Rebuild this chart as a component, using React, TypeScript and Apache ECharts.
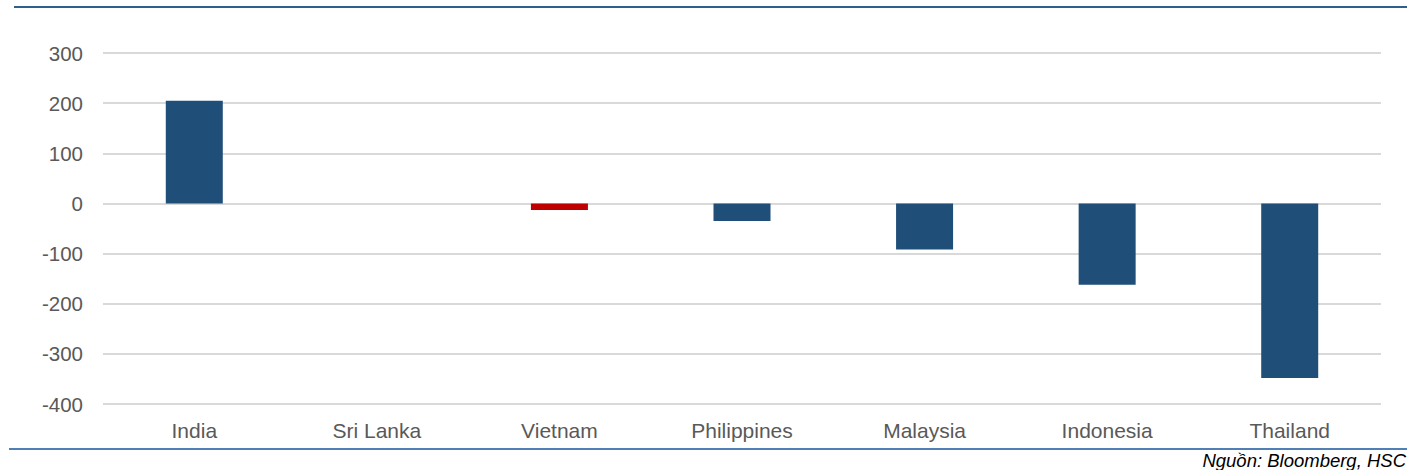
import React, { useEffect, useRef } from "react";
import * as echarts from "echarts";

const categories = ["India", "Sri Lanka", "Vietnam", "Philippines", "Malaysia", "Indonesia", "Thailand"];
const values = [205, 0, -13, -35, -92, -162, -348];
const highlight = ["Vietnam"];
const yTicks = { min: -400, max: 300, interval: 100 };

export default function App() {
  const ref = useRef<HTMLDivElement>(null);
  useEffect(() => {
    document.body.style.margin = "0";
    const chart = echarts.init(ref.current!, undefined, { renderer: "svg" });
    chart.setOption({
      animation: false,
      textStyle: { fontFamily: "Liberation Sans, Arial, sans-serif" },
      grid: { left: 103, right: 26, top: 53, bottom: 66, containLabel: false },
      xAxis: {
        type: "category",
        data: categories,
        axisLine: { show: false },
        axisTick: { show: false },
        axisLabel: { color: "#595959", fontSize: 21, margin: 16 },
      },
      yAxis: {
        type: "value",
        min: yTicks.min,
        max: yTicks.max,
        interval: yTicks.interval,
        axisLine: { show: false },
        axisTick: { show: false },
        axisLabel: { color: "#595959", fontSize: 20.5, margin: 20 },
        splitLine: { lineStyle: { color: "#D9D9D9", width: 2 } },
      },
      series: [
        {
          type: "bar",
          barWidth: 57,
          data: values.map((v, i) => ({
            value: v,
            itemStyle: { color: highlight.includes(categories[i]) ? "#C00000" : "#1F4E79" },
          })),
        },
      ],
      graphic: [
        { type: "line", shape: { x1: 14, y1: 7, x2: 1407, y2: 7 }, style: { stroke: "#2F5F8F", lineWidth: 2 } },
        { type: "line", shape: { x1: 9, y1: 449, x2: 1407, y2: 449 }, style: { stroke: "#4F7FB5", lineWidth: 2 } },
        {
          type: "text",
          right: 1,
          top: 451,
          style: {
            text: "Nguồn: Bloomberg, HSC",
            fontSize: 18.5,
            fontStyle: "italic",
            fill: "#000000",
            fontFamily: "Liberation Sans, Arial, sans-serif",
          },
        },
      ],
    });
    return () => chart.dispose();
  }, []);
  return <div ref={ref} style={{ width: 1407, height: 470 }} />;
}
